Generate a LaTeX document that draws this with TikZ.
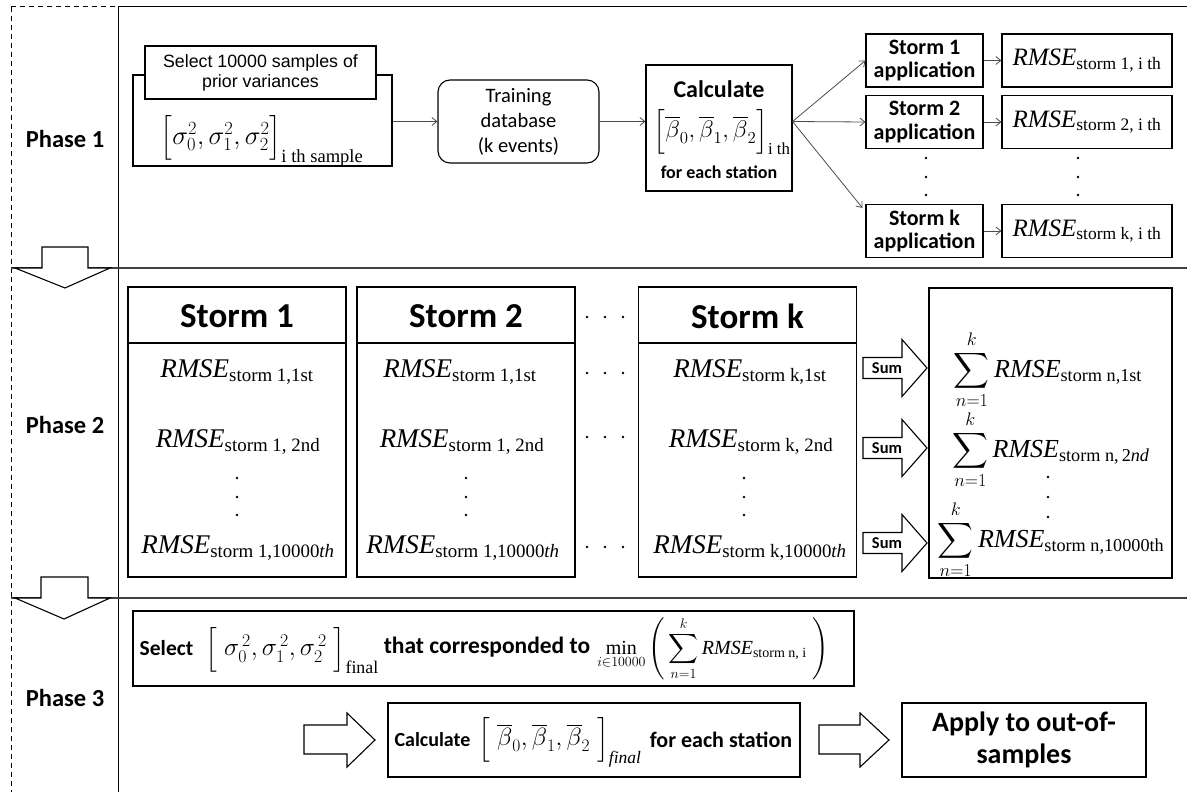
\RequirePackage{fix-cm}
\documentclass[tikz,border=0pt]{standalone}
\usepackage{amsmath}
\usepackage{fontspec}
\setmainfont{Liberation Serif}
\newfontfamily\calib{Carlito}
\newfontfamily\arialf{Liberation Sans}
\usetikzlibrary{arrows.meta}
\newcommand{\rmse}[1]{\textit{RMSE}_{\text{#1}}}
\newcommand{\fs}[2]{\fontsize{#1}{#2}\selectfont}
\begin{document}
\begin{tikzpicture}[x=1pt,y=-1pt,
  box/.style={draw, line width=1.1pt, inner sep=0pt},
  frame/.style={line width=1pt, black},
  sepline/.style={line width=1.4pt, black!75},
  arr/.style={draw=black!70, line width=0.8pt, -{Straight Barb[length=5pt,width=8pt]}},
  blockarrow/.style={draw, line width=1.1pt, fill=white},
  phase/.style={font=\calib\bfseries\fs{24.5}{28}},
  txt/.style={inner sep=0pt, align=center},
]
\useasboundingbox (0,0) rectangle (1187,792);

% ---------- frame ----------
\draw[frame, dashed, dash pattern=on 5pt off 4pt] (11,7) -- (118,7);
\draw[frame] (118,7) -- (1187,7);
\draw[frame, dashed, dash pattern=on 5pt off 4pt] (11,7) -- (11,792);
\draw[frame] (118,7) -- (118,792);
\draw[sepline] (11,268) -- (1187,268);
\draw[sepline] (11,598) -- (1187,598);
\draw[blockarrow] (42,247) -- (42,268) -- (15,268) -- (65,288) -- (110,268) -- (88,268) -- (88,247) -- cycle;
\draw[blockarrow] (41,577) -- (41,598) -- (15,598) -- (64,619) -- (110,598) -- (88,598) -- (88,577) -- cycle;

\node[phase] (p1) at (65,139) {Phase 1};
\node[phase] (p2) at (65,425) {Phase 2};
\node[phase] (p3) at (65,698) {Phase 3};

% ---------- Phase 1 ----------
\node[box, minimum width=259, minimum height=91] (selout) at (262.5,120.5) {};
\node[box, fill=white, minimum width=231, minimum height=53, align=center,
      font=\arialf\fs{17.8}{20}] (selin) at (260.5,72.5) {Select 10000 samples of\\prior variances};
\node[txt, font=\fs{26.5}{30}] (sigf) at (262,140)
  {$\Big[\sigma_0^2,\sigma_1^2,\sigma_2^2\Big]_{\text{i th sample}}$};

\node[box, rounded corners=12pt, minimum width=161, minimum height=83, align=center,
      font=\calib\fs{20.5}{25}] (train) at (518.5,121.5) {Training\\database\\(k events)};

\node[box, minimum width=146, minimum height=126] (calc) at (719,128) {};
\node[txt, font=\calib\bfseries\fs{24}{28}] (calct) at (719,89) {Calculate};
\node[txt, font=\fs{24}{28}] (calcf) at (722,132)
  {$\Big[\overline{\beta}_0,\overline{\beta}_1,\overline{\beta}_2\Big]_{\text{i th}}$};
\node[txt, font=\calib\bfseries\fs{18}{22}] (calcs) at (719,172) {for each station};

\tikzset{sapp/.style={box, minimum width=117, minimum height=53, align=center, font=\calib\bfseries\fs{22}{23.5}},
         rbox/.style={box, minimum width=170, minimum height=53, font=\fs{25}{30}}}
\node[sapp] (sa1) at (924.5,60.5) {Storm 1\\application};
\node[sapp] (sa2) at (924.5,122) {Storm 2\\application};
\node[sapp] (sak) at (924.5,231) {Storm k\\application};
\node[rbox] (r1) at (1087,60.5) {$\rmse{storm 1, i th}$};
\node[rbox] (r2) at (1087,122) {$\rmse{storm 2, i th}$};
\node[rbox] (rk) at (1087,231) {$\rmse{storm k, i th}$};

\draw[arr] (selout.east |- train.west) -- (train.west);
\draw[arr] (train.east) -- (calc.west |- train.east);
\coordinate (fan) at (calc.east |- train.east);
\draw[arr] (fan) -- (sa1.west);
\draw[arr] (fan) -- (sa2.west);
\draw[arr] (fan) -- ([xshift=-3pt,yshift=-4pt]sak.north west);
\draw[arr] (sa1) -- (r1);
\draw[arr] (sa2) -- (r2);
\draw[arr] (sak) -- (rk);
\foreach \yy in {158,177,195}{
  \fill (926,\yy) circle (1.3);
  \fill (1078,\yy) circle (1.3);
}

% ---------- Phase 2 ----------
\tikzset{stbox/.style={box, minimum width=218, minimum height=290},
         sttitle/.style={txt, font=\calib\bfseries\fs{35}{38}},
         rmrow/.style={inner sep=0pt, anchor=base, font=\fs{27}{30}}}
\node[stbox] (s1) at (237,432) {};
\node[stbox] (s2) at (466,432) {};
\node[stbox] (sk) at (747.5,432) {};
\draw[box] (128,343) -- (346,343);
\draw[box] (357,343) -- (575,343);
\draw[box] (638,343) -- (857,343);
\node[sttitle] (s1t) at (237,316) {Storm 1};
\node[sttitle] (s2t) at (466,316) {Storm 2};
\node[sttitle] (skt) at (747.5,316) {Storm k};

\node[rmrow] (s1a) at (237,377) {$\rmse{storm 1,1st}$};
\node[rmrow] (s1b) at (238,447) {$\rmse{storm 1, 2nd}$};
\node[rmrow] (s1c) at (238,553) {$\rmse{storm 1,10000\textit{th}}$};
\node[rmrow] (s2a) at (460,377) {$\rmse{storm 1,1st}$};
\node[rmrow] (s2b) at (462,447) {$\rmse{storm 1, 2nd}$};
\node[rmrow] (s2c) at (463,553) {$\rmse{storm 1,10000\textit{th}}$};
\node[rmrow] (ska) at (750,377) {$\rmse{storm k,1st}$};
\node[rmrow] (skb) at (751,447) {$\rmse{storm k, 2nd}$};
\node[rmrow] (skc) at (750,553) {$\rmse{storm k,10000\textit{th}}$};
\foreach \xx in {237,466,744}{
  \foreach \yy in {478,497,515}{ \fill (\xx,\yy) circle (1.3); }
}
\foreach \yy in {317,373,437,547}{
  \foreach \xx in {587,605,623}{ \fill (\xx,\yy) circle (1.3); }
}

\node[box, minimum width=243, minimum height=290] (res) at (1050.5,433) {};
\node[txt, font=\fs{26}{30}] (sum1) at (1048,370) {$\displaystyle\sum_{n=1}^{k}\rmse{storm n,1st}$};
\node[txt, font=\fs{26}{30}] (sum2) at (1051,450) {$\displaystyle\sum_{n=1}^{k}\rmse{storm n,\,2\textit{nd}}$};
\node[txt, font=\fs{26}{30}] (sum3) at (1051,540) {$\displaystyle\sum_{n=1}^{k}\rmse{storm n,10000th}$};
\foreach \yy in {477,497,517}{ \fill (1048,\yy) circle (1.3); }

\foreach \c/\nm in {368/a,448/b,543/c}{
  \draw[blockarrow] (863,\c-10.5) -- (902,\c-10.5) -- (902,\c-28.5) -- (927,\c)
     -- (902,\c+28.5) -- (902,\c+10.5) -- (863,\c+10.5) -- cycle;
  \node[txt, font=\calib\bfseries\fs{16.5}{18}] (sumlab\nm) at (887,\c) {Sum};
}

% ---------- Phase 3 ----------
\node[box, minimum width=721, minimum height=75] (sel3) at (493.5,648.5) {};
\node[txt, font=\calib\bfseries\fs{21.5}{25}] (sel3a) at (166.5,648) {Select};
\node[txt, font=\fs{25.5}{29}] (sel3b) at (292,650)
  {$\Big[\;\sigma_0^{\,2},\sigma_1^{\,2},\sigma_2^{\,2}\;\Big]_{\text{final}}$};
\node[txt, font=\calib\bfseries\fs{23.5}{27}] (sel3c) at (487,647) {that corresponded to};
\node[txt, font=\fs{20}{24}] (sel3d) at (713,648.5)
  {$\min\limits_{i\in 10000}\Bigg(\displaystyle\sum_{n=1}^{k}\rmse{storm n, i}\;\Bigg)$};

\node[box, minimum width=412, minimum height=74] (calc3) at (594,740) {};
\node[txt, font=\calib\bfseries\fs{20}{24}] (calc3a) at (432.5,740) {Calculate};
\node[txt, font=\fs{25}{29}] (calc3b) at (560,742)
  {$\Big[\;\overline{\beta}_0,\overline{\beta}_1,\overline{\beta}_2\;\Big]_{\mathit{final}}$};
\node[txt, font=\calib\bfseries\fs{22}{26}] (calc3c) at (721,740) {for each station};
\node[box, minimum width=244, minimum height=74, align=center, font=\calib\bfseries\fs{28}{32}] (apply) at (1024,740)
  {Apply to out-of-\\samples};

\draw[blockarrow] (304,725) -- (347,725) -- (347,713) -- (375,740) -- (347,767) -- (347,754) -- (304,754) -- cycle;
\draw[blockarrow] (819,725) -- (860,725) -- (860,713) -- (889,740) -- (860,767) -- (860,754) -- (819,754) -- cycle;
\end{tikzpicture}
\end{document}
